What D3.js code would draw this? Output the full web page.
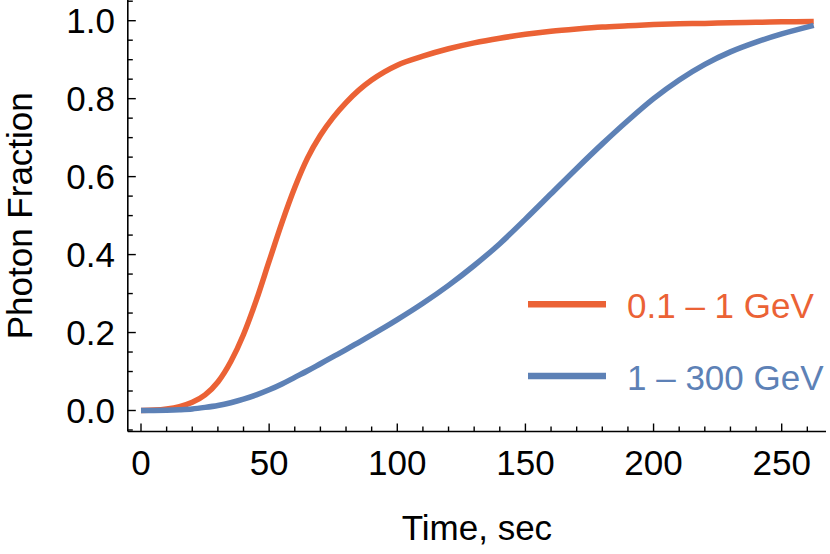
<!DOCTYPE html>
<html>
<head>
<meta charset="utf-8">
<script src="https://cdn.jsdelivr.net/npm/d3@7"></script>
<style>
  html, body { margin: 0; padding: 0; background: #fff; }
  svg text { font-family: "Liberation Sans", Arial, Helvetica, sans-serif; }
</style>
</head>
<body>
<svg id="chart" width="830" height="554"></svg>
<script>
// ---- data ----
const times = [0,5,10,15,20,25,30,35,40,45,50,55,60,65,70,75,80,85,90,95,100,
               110,120,130,140,150,160,170,180,190,200,210,220,230,240,250,262.5];
const lowEnergy = [0,0.001,0.004,0.010,0.021,0.040,0.073,0.125,0.195,0.283,0.383,0.482,0.572,0.648,0.706,0.752,0.790,0.822,0.848,0.869,0.886,
                   0.909,0.928,0.943,0.955,0.965,0.973,0.979,0.984,0.987,0.990,0.992,0.993,0.995,0.996,0.997,0.998];
const highEnergy = [0,0.0002,0.0008,0.002,0.004,0.008,0.013,0.020,0.029,0.040,0.053,0.068,0.085,0.102,0.120,0.138,0.156,0.175,0.194,0.213,0.233,
                    0.275,0.321,0.372,0.428,0.491,0.556,0.621,0.684,0.744,0.800,0.848,0.888,0.920,0.945,0.966,0.988];
const seriesNames = ["0.1 \u2013 1 GeV", "1 \u2013 300 GeV"];
const seriesColors = ["#EB6235", "#5D81B6"];
const xMajorTicks = [0,50,100,150,200,250];
const xMinorTicks = [0,10,20,30,40,50,60,70,80,90,100,110,120,130,140,150,160,170,180,190,200,210,220,230,240,250,260];
const yMajorTicks = [0,0.2,0.4,0.6,0.8,1.0];
const yMinorTicks = [-0.05,0,0.05,0.1,0.15,0.2,0.25,0.3,0.35,0.4,0.45,0.5,0.55,0.6,0.65,0.7,0.75,0.8,0.85,0.9,0.95,1.0,1.05];
const xTitle = "Time, sec";
const yTitle = "Photon Fraction";

// ---- layout ----
const svg = d3.select("#chart");
const x = d3.scaleLinear().domain([0, 250]).range([141, 781.7]);
const y = d3.scaleLinear().domain([0, 1]).range([410.5, 20.7]);
const axisLeftX = 127.8, axisBottomY = 431.5, axisRightX = 826, axisTopY = 0;
const FS = 35;

// axes lines
svg.append("line").attr("x1", axisLeftX).attr("x2", axisLeftX).attr("y1", axisTopY).attr("y2", axisBottomY)
  .attr("stroke", "#000").attr("stroke-width", 1.6);
svg.append("line").attr("x1", axisLeftX).attr("x2", axisRightX).attr("y1", axisBottomY).attr("y2", axisBottomY)
  .attr("stroke", "#000").attr("stroke-width", 1.6);

// y ticks (inward)
svg.append("g").selectAll("line").data(yMinorTicks).join("line")
  .attr("x1", axisLeftX).attr("x2", d => axisLeftX + (yMajorTicks.some(m => Math.abs(m - d) < 1e-9) ? 8 : 5))
  .attr("y1", d => y(d)).attr("y2", d => y(d))
  .attr("stroke", "#000").attr("stroke-width", 1.4);
svg.append("g").selectAll("text").data(yMajorTicks).join("text")
  .attr("x", 115).attr("y", d => y(d) + 12.5)
  .attr("text-anchor", "end").attr("font-size", FS).attr("fill", "#000")
  .text(d => d3.format(".1f")(d));

// x ticks (inward)
svg.append("g").selectAll("line").data(xMinorTicks).join("line")
  .attr("x1", d => x(d)).attr("x2", d => x(d))
  .attr("y1", axisBottomY).attr("y2", d => axisBottomY - (xMajorTicks.includes(d) ? 8 : 5))
  .attr("stroke", "#000").attr("stroke-width", 1.4);
svg.append("g").selectAll("text").data(xMajorTicks).join("text")
  .attr("x", d => x(d)).attr("y", 475)
  .attr("text-anchor", "middle").attr("font-size", FS).attr("fill", "#000")
  .text(d => d);

// titles
svg.append("text").attr("x", (axisLeftX + axisRightX) / 2).attr("y", 540)
  .attr("text-anchor", "middle").attr("font-size", FS).attr("fill", "#000").text(xTitle);
svg.append("text").attr("transform", `translate(32, ${(axisTopY + axisBottomY) / 2}) rotate(-90)`)
  .attr("text-anchor", "middle").attr("font-size", FS).attr("fill", "#000").text(yTitle);

// curves
const line = d3.line().x(d => x(d[0])).y(d => y(d[1])).curve(d3.curveMonotoneX);
const series = [lowEnergy, highEnergy];
[0, 1].forEach(i => {
  svg.append("path").datum(times.map((t, k) => [t, series[i][k]]))
    .attr("d", line).attr("fill", "none")
    .attr("stroke", seriesColors[i]).attr("stroke-width", 5.5)
    .attr("stroke-linejoin", "round");
});

// legend
const legY = [304.3, 376];
seriesNames.forEach((name, i) => {
  svg.append("line").attr("x1", 528).attr("x2", 606).attr("y1", legY[i]).attr("y2", legY[i])
    .attr("stroke", seriesColors[i]).attr("stroke-width", 6.5);
  svg.append("text").attr("x", 627).attr("y", legY[i] + 14)
    .attr("font-size", FS).attr("fill", seriesColors[i]).text(name);
});
</script>
</body>
</html>
